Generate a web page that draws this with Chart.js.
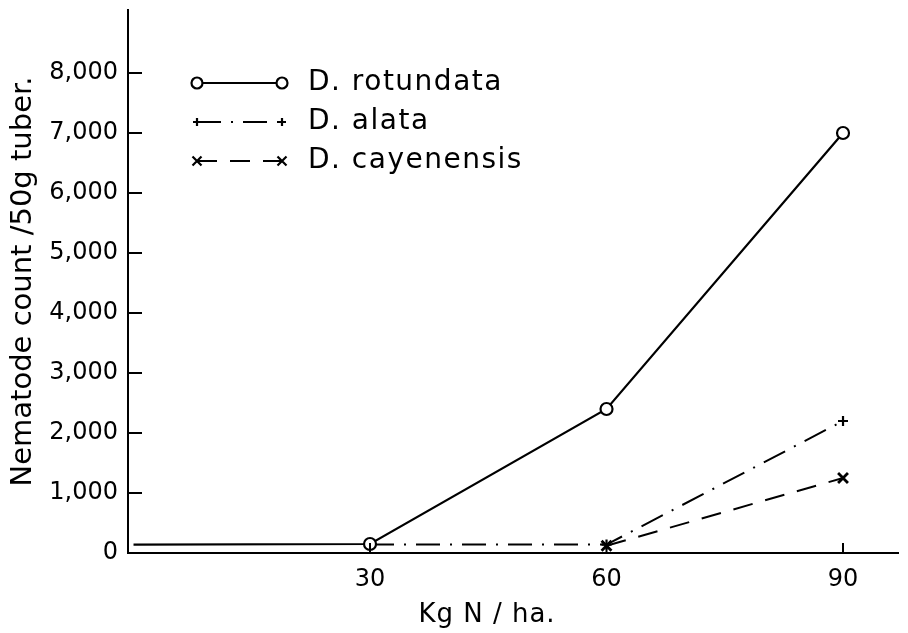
<!DOCTYPE html>
<html>
<head>
<meta charset="utf-8">
<script src="https://cdn.jsdelivr.net/npm/chart.js@4/dist/chart.umd.min.js"></script>
<style>
  html, body { margin: 0; padding: 0; background: #fff; }
  #wrap { width: 908px; height: 633px; position: relative; }
</style>
</head>
<body>
<div id="wrap"><canvas id="c" width="908" height="633"></canvas></div>
<script>
// ---- data ----
const nitrogenLevels = [0, 30, 60, 90];           // Kg N / ha
const rotundata      = [140, 150, 2400, 7000];     // D. rotundata
const alata          = [null, 140, 140, 2200];     // D. alata
const cayenensis     = [null, null, 120, 1250];    // D. cayenensis
const xTickValues    = [30, 60, 90];
const yTickValues    = [0, 1000, 2000, 3000, 4000, 5000, 6000, 7000, 8000];
const seriesNames    = ['D. rotundata', 'D. alata', 'D. cayenensis'];
const xTitle = 'Kg N / ha.';
const yTitle = 'Nematode count /50g tuber.';

const FONT = 'DejaVu Sans';
const toPoints = arr => nitrogenLevels.map((x, i) => ({ x: x, y: arr[i] }));
const radii = (r) => nitrogenLevels.map(x => (x === 0 ? 0 : r));

const datasets = [
  { label: seriesNames[0], data: toPoints(rotundata), borderColor: '#000', backgroundColor: '#fff',
    borderWidth: 2.2, pointStyle: 'circle', pointRadius: radii(6), pointBorderWidth: 2.2,
    pointBorderColor: '#000', pointBackgroundColor: '#fff', tension: 0, order: 1 },
  { label: seriesNames[1], data: toPoints(alata), borderColor: '#000', backgroundColor: '#000',
    borderWidth: 2, borderDash: [24, 10, 2, 10], pointStyle: 'cross', pointRadius: 5, pointBorderWidth: 2.2,
    pointBorderColor: '#000', tension: 0, spanGaps: false, order: 2 },
  { label: seriesNames[2], data: toPoints(cayenensis), borderColor: '#000', backgroundColor: '#000',
    borderWidth: 2, borderDash: [20, 13], pointStyle: 'crossRot', pointRadius: 7, pointBorderWidth: 2.8,
    pointBorderColor: '#000', tension: 0, spanGaps: false, order: 3 }
];

const innerTicks = {
  id: 'innerTicks',
  afterDatasetsDraw(chart) {
    const ctx = chart.ctx, a = chart.chartArea;
    const xs = chart.scales.x, ys = chart.scales.y;
    ctx.save();
    ctx.strokeStyle = '#000';
    ctx.lineWidth = 2;
    ys.ticks.forEach(t => {
      if (t.value === 0) return;
      const py = ys.getPixelForValue(t.value);
      ctx.beginPath(); ctx.moveTo(a.left, py); ctx.lineTo(a.left + 14, py); ctx.stroke();
    });
    xs.ticks.forEach(t => {
      const px = xs.getPixelForValue(t.value);
      ctx.beginPath(); ctx.moveTo(px, a.bottom); ctx.lineTo(px, a.bottom - 10); ctx.stroke();
    });
    // x axis title
    ctx.fillStyle = '#000';
    ctx.font = '26px "' + FONT + '"';
    ctx.textAlign = 'center';
    ctx.textBaseline = 'middle';
    try { ctx.letterSpacing = '1px'; } catch (e) {}
    ctx.fillText(xTitle, 487, 615);
    ctx.restore();
  }
};

const lineLegend = {
  id: 'lineLegend',
  afterDraw(chart) {
    const ctx = chart.ctx;
    const x0 = 197, x1 = 282, tx = 308, y0 = 83, dy = 39;
    ctx.save();
    chart.data.datasets.forEach((ds, i) => {
      const y = y0 + i * dy;
      ctx.strokeStyle = '#000';
      ctx.lineWidth = ds.borderWidth;
      ctx.setLineDash(ds.borderDash || []);
      ctx.beginPath(); ctx.moveTo(x0, y); ctx.lineTo(x1, y); ctx.stroke();
      ctx.setLineDash([]);
      const r = ds.pointStyle === 'circle' ? 5.5 : (ds.pointStyle === 'cross' ? 4 : 6);
      [x0, x1].forEach(px => {
        ctx.fillStyle = '#fff';
        ctx.strokeStyle = '#000';
        ctx.lineWidth = 2.2;
        ctx.beginPath();
        if (ds.pointStyle === 'circle') {
          ctx.arc(px, y, r, 0, Math.PI * 2); ctx.fill(); ctx.stroke();
        } else if (ds.pointStyle === 'cross') {
          ctx.moveTo(px - r, y); ctx.lineTo(px + r, y);
          ctx.moveTo(px, y - r); ctx.lineTo(px, y + r); ctx.stroke();
        } else {
          const d = r * 0.75;
          ctx.moveTo(px - d, y - d); ctx.lineTo(px + d, y + d);
          ctx.moveTo(px + d, y - d); ctx.lineTo(px - d, y + d); ctx.stroke();
        }
      });
      ctx.fillStyle = '#000';
      ctx.font = '28px "' + FONT + '"';
      try { ctx.letterSpacing = '1.5px'; } catch (e) {}
      ctx.textBaseline = 'middle';
      ctx.textAlign = 'left';
      ctx.fillText(ds.label, tx, y);
    });
    ctx.restore();
  }
};

new Chart(document.getElementById('c'), {
  type: 'line',
  data: { datasets: datasets },
  plugins: [innerTicks, lineLegend],
  options: {
    responsive: false,
    animation: false,
    devicePixelRatio: 1,
    layout: { padding: { top: 10, right: 3, left: 0, bottom: 0 } },
    plugins: { legend: { display: false }, tooltip: { enabled: false } },
    scales: {
      x: {
        type: 'linear', min: -0.7, max: 97,
        afterBuildTicks: s => { s.ticks = xTickValues.map(v => ({ value: v })); },
        afterFit: s => { s.height = 80; s.paddingLeft = 0; s.paddingRight = 0; },
        grid: { display: false, drawTicks: false },
        border: { display: true, color: '#000', width: 2 },
        ticks: { color: '#000', padding: 12, font: { family: FONT, size: 24 }, maxRotation: 0 },
        title: { display: false, text: xTitle }
      },
      y: {
        type: 'linear', min: 0, max: 9050,
        afterBuildTicks: s => { s.ticks = yTickValues.map(v => ({ value: v })); },
        afterFit: s => { s.width = 128; s.paddingTop = 0; s.paddingBottom = 0; },
        grid: { display: false, drawTicks: false },
        border: { display: true, color: '#000', width: 2 },
        ticks: { color: '#000', padding: 10, font: { family: FONT, size: 24 },
                 callback: v => v.toLocaleString('en-US') },
        title: { display: true, text: yTitle, color: '#000', font: { family: FONT, size: 29 },
                 padding: { top: 6, bottom: 0 } }
      }
    }
  }
});
</script>
</body>
</html>
